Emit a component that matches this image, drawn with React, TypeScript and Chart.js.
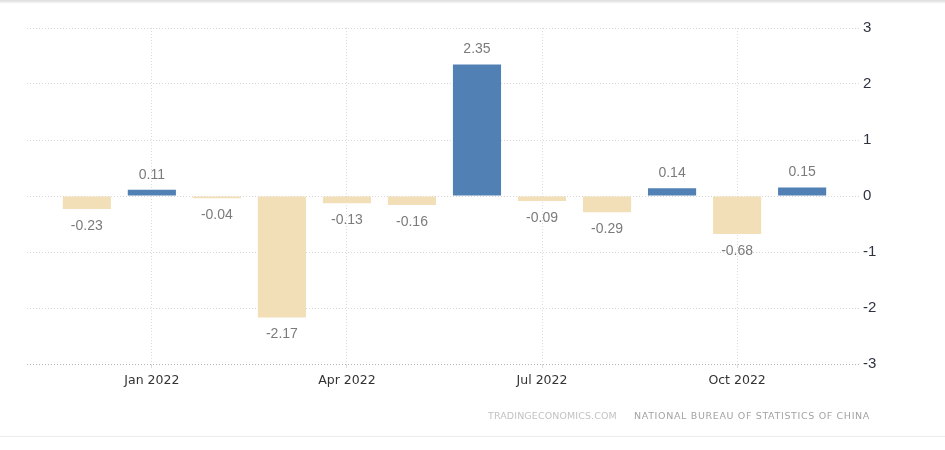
import { useEffect, useRef } from "react";
import { Chart, registerables } from "chart.js";

Chart.register(...registerables);

const categories = [
  "Dec 2021", "Jan 2022", "Feb 2022", "Mar 2022", "Apr 2022", "May 2022",
  "Jun 2022", "Jul 2022", "Aug 2022", "Sep 2022", "Oct 2022", "Nov 2022",
];
const values = [-0.23, 0.11, -0.04, -2.17, -0.13, -0.16, 2.35, -0.09, -0.29, 0.14, -0.68, 0.15];
const xTickLabels = ["Jan 2022", "Apr 2022", "Jul 2022", "Oct 2022"];
const yMin = -3;
const yMax = 3;

const POS_COLOR = "#5180b4";
const NEG_COLOR = "#f2dfb7";

const valueLabels = {
  id: "valueLabels",
  afterDatasetsDraw(chart: any) {
    const ctx = chart.ctx;
    const meta = chart.getDatasetMeta(0);
    ctx.save();
    ctx.font = "14px 'Liberation Sans', Arial, sans-serif";
    ctx.fillStyle = "#7b7b7b";
    ctx.textAlign = "center";
    ctx.textBaseline = "middle";
    meta.data.forEach((bar: any, i: number) => {
      const v = values[i];
      const y = v >= 0 ? bar.y - 15 : bar.y + 17;
      ctx.fillText(v.toFixed(2), bar.x, y);
    });
    ctx.restore();
  },
};

export default function App() {
  const ref = useRef<HTMLCanvasElement | null>(null);

  useEffect(() => {
    document.body.style.margin = "0";
    if (!ref.current) return;
    const chart = new Chart(ref.current, {
      type: "bar",
      data: {
        datasets: [
          {
            data: values.map((v, i) => ({ x: i, y: v })),
            backgroundColor: values.map((v) => (v >= 0 ? POS_COLOR : NEG_COLOR)),
            borderWidth: 0,
            barPercentage: 0.74,
            categoryPercentage: 1,
          },
        ],
      },
      options: {
        animation: false,
        responsive: false,
        devicePixelRatio: 1,
        layout: { padding: { left: 27, right: 45, top: 28, bottom: 46 } },
        plugins: {
          legend: { display: false },
          tooltip: { enabled: false },
        },
        scales: {
          x: {
            type: "linear",
            min: -0.92,
            max: 11.89,
            offset: false,
            afterBuildTicks: (scale: any) => {
              scale.ticks = xTickLabels.map((l) => ({ value: categories.indexOf(l) }));
            },
            afterFit: (scale: any) => {
              scale.height = 40;
              scale.paddingLeft = 0;
              scale.paddingRight = 0;
            },
            ticks: {
              autoSkip: false,
              maxRotation: 0,
              padding: 5,
              color: "#333333",
              font: { family: "'DejaVu Sans', sans-serif", size: 12.5 },
              callback: (value: any) => categories[Number(value)] ?? "",
            },
            grid: { color: "#dcdcdc", tickLength: 4, drawTicks: true, offset: false },
            border: { display: false, dash: [1, 2] },
          },
          y: {
            position: "right",
            min: yMin,
            max: yMax,
            afterFit: (scale: any) => {
              scale.width = 40;
              scale.paddingTop = 0;
              scale.paddingBottom = 0;
            },
            ticks: {
              stepSize: 1,
              padding: 3,
              color: "#2f3340",
              font: { family: "'Liberation Sans Narrow', 'Liberation Sans', Arial, sans-serif", size: 15 },
            },
            grid: {
              drawTicks: false,
              color: (c: any) => (c.tick && c.tick.value === yMin ? "#b5b5b5" : "#d6d6d6"),
            },
            border: { display: false, dash: [1, 2] },
          },
        },
      },
      plugins: [valueLabels],
    } as any);
    return () => chart.destroy();
  }, []);

  const wm = {
    position: "absolute" as const,
    top: 410,
    whiteSpace: "nowrap" as const,
    fontFamily: "'DejaVu Sans', sans-serif",
    fontSize: 9.5,
  };

  return (
    <div
      style={{
        position: "relative",
        width: 945,
        height: 450,
        background: "#ffffff",
        overflow: "hidden",
      }}
    >
      <div style={{ position: "absolute", left: 0, top: 0, width: 945, height: 3, background: "linear-gradient(#dcdcdc, #f4f4f4)" }} />
      <div style={{ position: "absolute", left: 0, top: 436, width: 945, height: 1, background: "#ececec" }} />
      <canvas ref={ref} width={945} height={450} style={{ position: "absolute", left: 0, top: 0, width: 945, height: 450 }} />
      <span style={{ ...wm, left: 488, letterSpacing: 0.1, color: "#c2c2c2" }}>TRADINGECONOMICS.COM</span>
      <span style={{ ...wm, left: 634, letterSpacing: 0.65, color: "#a3a3a3" }}>NATIONAL BUREAU OF STATISTICS OF CHINA</span>
    </div>
  );
}
